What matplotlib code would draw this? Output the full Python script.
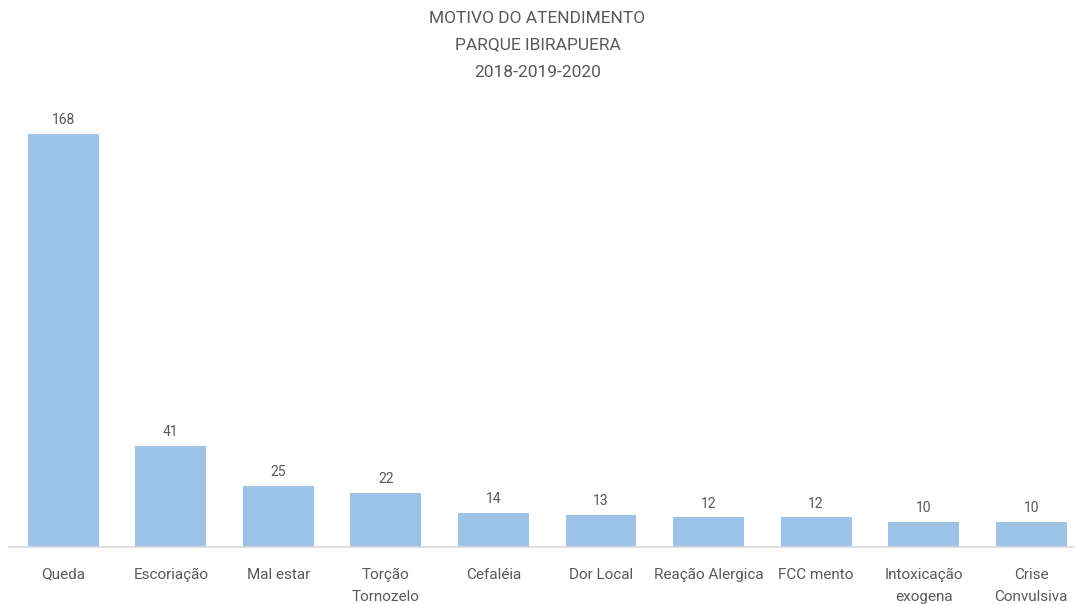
import matplotlib.pyplot as plt

# data
categories = ["Queda", "Escoriação", "Mal estar", "Torção\nTornozelo", "Cefaléia",
              "Dor Local", "Reação Alergica", "FCC mento", "Intoxicação\nexogena",
              "Crise\nConvulsiva"]
counts = [168, 41, 25, 22, 14, 13, 12, 12, 10, 10]
title_lines = ["MOTIVO DO ATENDIMENTO", "PARQUE IBIRAPUERA", "2018-2019-2020"]

plt.rcParams["font.family"] = ["Liberation Sans Narrow", "Roboto", "DejaVu Sans"]
text_color = "#595959"

fig = plt.figure(figsize=(10.75, 6.04), dpi=100)
ax = fig.add_axes([0.0088, 0.0944, 1.0005, 0.740])

x = range(len(categories))
bars = ax.bar(x, counts, width=0.66, color="#9DC3E6")
ax.set_xlim(-0.5, len(categories) - 0.5)
ax.set_ylim(0, 181.9)

for xi, v in zip(x, counts):
    ax.annotate(str(v), (xi, v), xytext=(0, 5), textcoords="offset points",
                ha="center", va="bottom", fontsize=10, color=text_color)

ax.set_xticks(list(x))
ax.set_xticklabels(categories, fontsize=11, color=text_color, linespacing=1.75, va="top")
ax.tick_params(axis="x", length=0, pad=15)
ax.set_yticks([])
for side in ["top", "right", "left"]:
    ax.spines[side].set_visible(False)
ax.spines["bottom"].set_color("#D9D9D9")
ax.spines["bottom"].set_linewidth(1.2)

# title: three centred lines, ~27 px apart
for i, line in enumerate(title_lines):
    fig.text(0.5, 0.970 - i * 0.0447, line, ha="center", va="center",
             fontsize=12.5, color=text_color)

fig.savefig("out.png", dpi=100)
